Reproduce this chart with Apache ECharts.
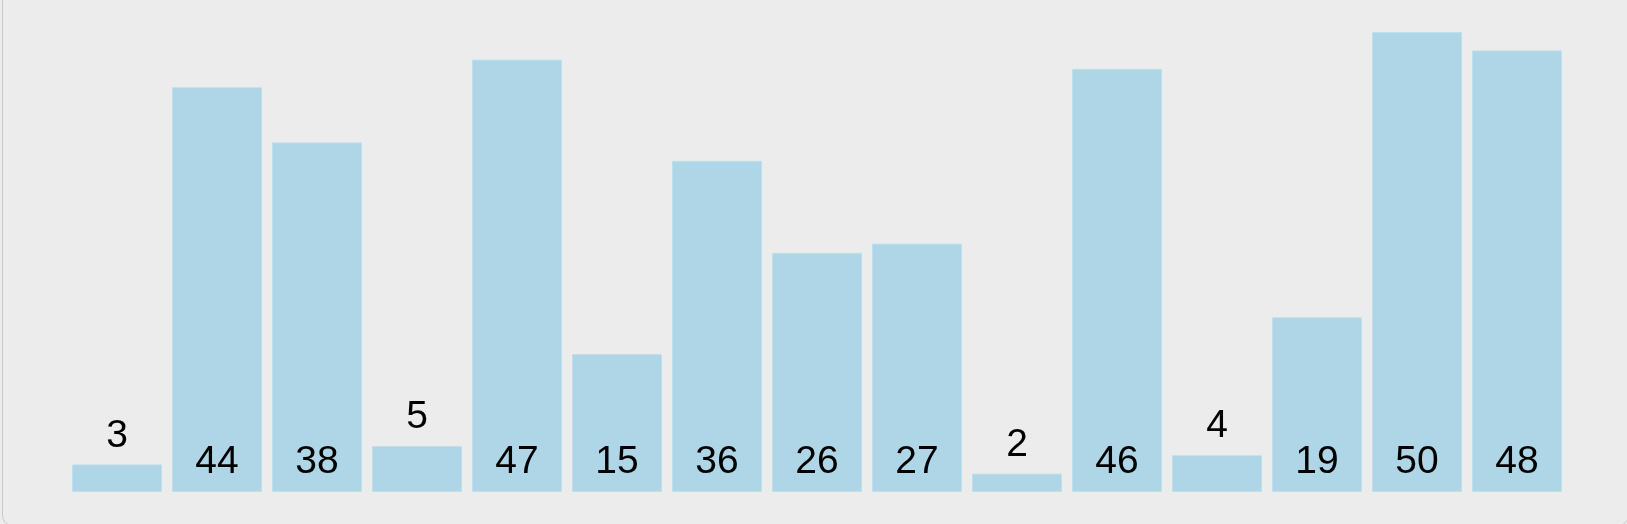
<!DOCTYPE html>
<html>
<head>
<meta charset="utf-8">
<script src="https://cdn.jsdelivr.net/npm/echarts@6/dist/echarts.min.js"></script>
<style>
html,body{margin:0;padding:0;background:#ececec;}
#chart{width:1627px;height:524px;}
</style>
</head>
<body>
<div id="chart"></div>
<script>
const categories = ['1','2','3','4','5','6','7','8','9','10','11','12','13','14','15'];
const values = [3, 44, 38, 5, 47, 15, 36, 26, 27, 2, 46, 4, 19, 50, 48];
const outsideThreshold = 10;

const chart = echarts.init(document.getElementById('chart'), null, {renderer: 'canvas'});
const labelBase = {
  show: true,
  fontFamily: '"Liberation Sans", Arial, Helvetica, sans-serif',
  fontSize: 39,
  color: '#000000'
};
const seriesData = values.map(v => ({
  value: v,
  label: Object.assign({}, labelBase,
    v < outsideThreshold ? {position: 'top', distance: 9} : {position: 'insideBottom', distance: 10})
}));

chart.setOption({
  backgroundColor: '#ececec',
  animation: false,
  graphic: [{
    type: 'rect',
    left: 0, top: -10,
    shape: {width: 1626, height: 533, r: [0, 0, 10, 10]},
    style: {fill: 'none', stroke: '#c8c8c8', lineWidth: 1},
    silent: true, z: 100
  }],
  grid: {left: 67, right: 60, top: 32, bottom: 32},
  xAxis: {
    type: 'category',
    data: categories,
    show: false,
    axisLine: {show: false},
    axisTick: {show: false},
    axisLabel: {show: false}
  },
  yAxis: {
    type: 'value',
    min: 0,
    max: 50,
    show: false,
    splitLine: {show: false}
  },
  series: [{
    type: 'bar',
    data: seriesData,
    barWidth: 90,
    itemStyle: {color: '#aed6e6', borderColor: '#bfdfeb', borderWidth: 1}
  }]
});
</script>
</body>
</html>
